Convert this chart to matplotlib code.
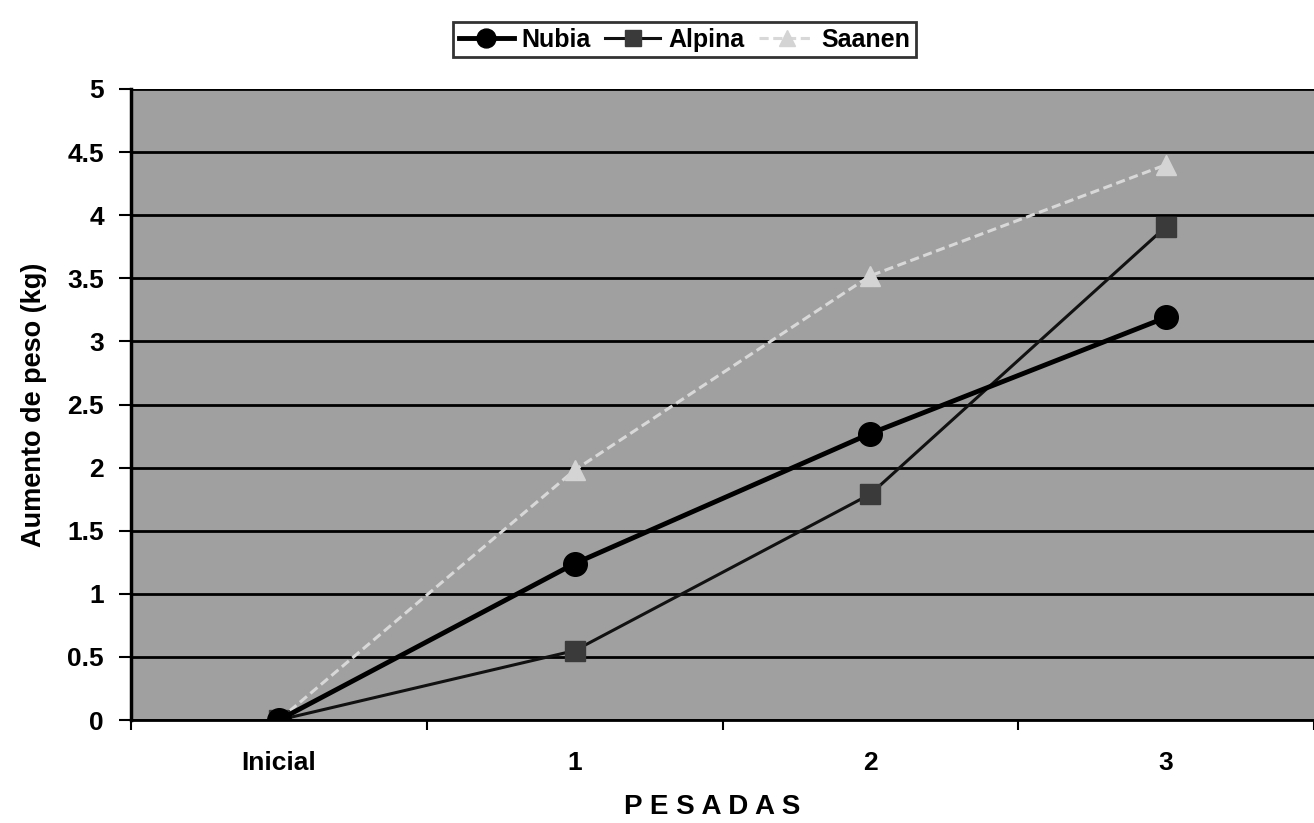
import matplotlib
matplotlib.use("Agg")
import matplotlib.pyplot as plt
from matplotlib.ticker import FixedLocator, MultipleLocator, FuncFormatter

categories = ["Inicial", "1", "2", "3"]
nubia = [0, 1.24, 2.27, 3.19]
alpina = [0, 0.55, 1.79, 3.91]
saanen = [0, 1.98, 3.52, 4.40]

plt.rcParams['font.family'] = ['Liberation Sans', 'DejaVu Sans']
plt.rcParams['font.weight'] = 'bold'

fig = plt.figure(figsize=(13.14, 8.23), dpi=100)
ax = fig.add_axes([0.0997, 0.1251, 0.9003, 0.7668])
ax.set_facecolor('#a0a0a0')

x = list(range(len(categories)))
ax.plot(x, saanen, color='#d8d8d8', lw=2.2, ls=(0, (3, 1.5)), marker='^', ms=14,
        mfc='#d4d4d4', mec='#d4d4d4', label='Saanen', zorder=3)
ax.plot(x, alpina, color='#111111', lw=2.2, marker='s', ms=14,
        mfc='#3a3a3a', mec='#3a3a3a', label='Alpina', zorder=4)
ax.plot(x, nubia, color='black', lw=3.5, marker='o', ms=17,
        mfc='black', mec='black', label='Nubia', zorder=5)

ax.set_xlim(-0.5, 3.5)
ax.set_ylim(0, 5)
ax.yaxis.set_major_locator(MultipleLocator(0.5))
ax.yaxis.set_major_formatter(FuncFormatter(lambda v, p: f"{v:g}"))
ax.grid(axis='y', color='black', lw=2)
ax.set_axisbelow(True)

ax.set_xticks(x)
ax.set_xticklabels(categories)
ax.xaxis.set_minor_locator(FixedLocator([-0.5, 0.5, 1.5, 2.5, 3.5]))
ax.tick_params(axis='x', which='major', length=0, pad=22, labelsize=19)
ax.tick_params(axis='x', which='minor', length=7, width=1.5, direction='out')
ax.tick_params(axis='y', which='major', length=8.6, width=1.5, direction='out', labelsize=19, pad=11)

for s in ['top', 'right']:
    ax.spines[s].set_visible(False)
ax.spines['left'].set_linewidth(2.5)
ax.spines['bottom'].set_linewidth(2)

ax.set_ylabel("Aumento de peso (kg)", fontsize=19.5, fontweight='bold')
ax.yaxis.set_label_coords(-0.071, 0.5)
ax.set_xlabel("P E S A D A S", fontsize=20, fontweight='bold')
ax.xaxis.set_label_coords((712 - 131) / 1183, -0.117)

h, l = ax.get_legend_handles_labels()
order = [2, 1, 0]
leg = fig.legend([h[i] for i in order], [l[i] for i in order], loc='upper center',
                 bbox_to_anchor=(0.521, 0.973), ncol=3, frameon=True, fancybox=False,
                 edgecolor='black', fontsize=18, handlelength=2.2, columnspacing=0.6,
                 handletextpad=0.3, borderpad=0.22, borderaxespad=0, markerscale=0.8)
leg.get_frame().set_linewidth(2)

fig.savefig("out.png", dpi=100)
